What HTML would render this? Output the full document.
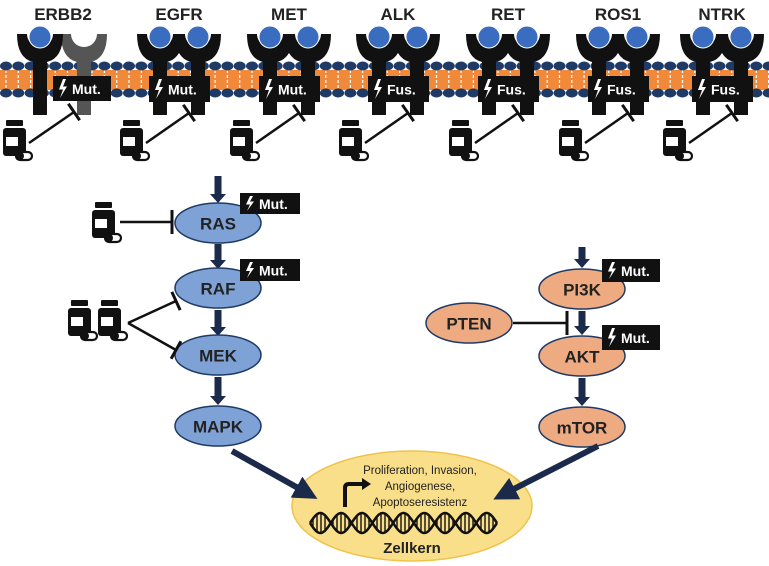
<!DOCTYPE html>
<html><head><meta charset="utf-8"><style>
html,body{margin:0;padding:0;background:#fff}
svg{display:block}
text{font-family:"Liberation Sans",sans-serif}
</style></head><body>
<svg id="s" width="769" height="566" viewBox="0 0 769 566" xmlns="http://www.w3.org/2000/svg">
<defs>
<marker id="ah" markerWidth="4" markerHeight="4" refX="2" refY="2" orient="auto" markerUnits="strokeWidth"><path d="M0,0 L4,2 L0,4 Z" fill="#1b2a4a"/></marker>
</defs>
</svg>
<script>
const NS="http://www.w3.org/2000/svg";
const s=document.getElementById('s');
function el(t,a,txt,parent){const e=document.createElementNS(NS,t);for(const k in a)e.setAttribute(k,a[k]);if(txt!=null)e.textContent=txt;(parent||s).appendChild(e);return e;}
// membrane
el('rect',{x:0,y:70,width:769,height:20,fill:'#f08a3a'});
for(let x=6;x<769;x+=12.3){
  el('line',{x1:x,y1:70,x2:x,y2:90,stroke:'#fff','stroke-width':1.2,'stroke-dasharray':'3,2'});
  el('ellipse',{cx:x,cy:66,rx:6,ry:4.5,fill:'#1e3a66'});
  el('ellipse',{cx:x,cy:93,rx:6,ry:4.5,fill:'#1e3a66'});
}
function receptor(cx,col,ball){
  el('path',{d:`M${cx-23},34 L${cx-13},34 A13,13 0 0 0 ${cx+13},34 L${cx+23},34 Q${cx+23},58 ${cx+7},62 L${cx+7},115 L${cx-7},115 L${cx-7},62 Q${cx-23},58 ${cx-23},34 Z`,fill:col});
  if(ball) el('circle',{cx:cx,cy:37,r:11,fill:'#3a6cc0',stroke:'#fff','stroke-width':1});
}
function box(x,y,w,h,t){
  el('rect',{x:x,y:y,width:w,height:h,fill:'#111'});
  el('path',{d:`M${x+10},${y+3} L${x+6},${y+h/2+1} L${x+10},${y+h/2+1} L${x+7},${y+h-3} L${x+14},${y+h/2-2} L${x+10},${y+h/2-2} L${x+13},${y+3} Z`,fill:'#fff'});
  el('text',{x:x+19,y:y+h/2+5.5,fill:'#fff','font-size':14,'font-weight':'bold'},t);
}
function bottle(x,y){
  el('rect',{x:x+3,y:y,width:17,height:6,rx:1,fill:'#111'});
  el('rect',{x:x,y:y+8,width:23,height:28,rx:3,fill:'#111'});
  el('rect',{x:x+3,y:y+17,width:12,height:9,fill:'#fff'});
  el('rect',{x:x+13,y:y+32,width:16,height:8,rx:4,fill:'#fff',stroke:'#111','stroke-width':2.2});
  el('rect',{x:x+13,y:y+32,width:8,height:8,rx:4,fill:'#111'});
}
function inhib(x1,y1,x2,y2,bl){
  bl=bl||10;
  el('line',{x1,y1,x2,y2,stroke:'#111','stroke-width':2.5});
  const dx=x2-x1,dy=y2-y1,L=Math.hypot(dx,dy),px=-dy/L*bl,py=dx/L*bl;
  el('line',{x1:x2+px,y1:y2+py,x2:x2-px,y2:y2-py,stroke:'#111','stroke-width':3});
}
receptor(84,'#555',false);
receptor(40,'#111',true);
el('text',{x:63,y:20,'text-anchor':'middle','font-size':17,'font-weight':'bold',fill:'#222'},'ERBB2');
box(53,76,58,25,'Mut.');
bottle(3,120); inhib(29,143,74,112);
const cols=[[179,'EGFR','Mut.'],[289,'MET','Mut.'],[398,'ALK','Fus.'],[508,'RET','Fus.'],[618,'ROS1','Fus.'],[722,'NTRK','Fus.']];
cols.forEach(([c,n,t])=>{
  receptor(c-19,'#111',true);receptor(c+19,'#111',true);
  el('text',{x:c,y:20,'text-anchor':'middle','font-size':17,'font-weight':'bold',fill:'#222'},n);
  box(c-30,76,61,26,t);
  bottle(c-59,120); inhib(c-33,143,c+10,113);
});
function arrow(x,y1,y2){
  el('rect',{x:x-3.5,y:y1,width:7,height:y2-y1-8,fill:'#1b2a4a'});
  el('path',{d:`M${x-8},${y2-9} L${x+8},${y2-9} L${x},${y2} Z`,fill:'#1b2a4a'});
}
function node(cx,cy,t,fill){
  el('ellipse',{cx,cy,rx:43,ry:20,fill,stroke:'#1e3a66','stroke-width':1.5});
  el('text',{x:cx,y:cy+6.5,'text-anchor':'middle','font-size':17,'font-weight':'bold',fill:'#222'},t);
}
const B='#7fa2d6',O='#eeaa80';
arrow(218,176,203);
node(218,223,'RAS',B); box(240,193,60,21,'Mut.');
arrow(218,244,269);
node(218,288,'RAF',B); box(240,259,60,22,'Mut.');
arrow(218,310,336);
node(218,355,'MEK',B);
arrow(218,377,405);
node(218,426,'MAPK',B);
bottle(92,202); inhib(120,222,172,222,12);
bottle(68,300); bottle(98,300);
inhib(128,323,176,301); inhib(128,323,176,350);
arrow(582,247,268);
node(582,289,'PI3K',O); box(602,259,58,23,'Mut.');
node(469,323,'PTEN',O);
arrow(582,311,335);
inhib(513,323,567,323,12);
node(582,356,'AKT',O); box(602,325,58,25,'Mut.');
arrow(582,378,406);
node(582,427,'mTOR',O);
el('ellipse',{cx:412,cy:506,rx:120,ry:55,fill:'#f9df8a',stroke:'#efc34a','stroke-width':1.5});
el('line',{x1:232,y1:451,x2:307,y2:493,stroke:'#1b2a4a','stroke-width':6,'marker-end':'url(#ah)'});
el('line',{x1:598,y1:446,x2:504,y2:494,stroke:'#1b2a4a','stroke-width':6,'marker-end':'url(#ah)'});
['Proliferation, Invasion,','Angiogenese,','Apoptoseresistenz'].forEach((t,i)=>el('text',{x:420,y:474+i*16,'text-anchor':'middle','font-size':11.5,fill:'#222'},t));
el('path',{d:'M345,507 L345,488 Q345,484 349,484 L363,484',fill:'none',stroke:'#111','stroke-width':4});
el('path',{d:'M362,478 L371,484 L362,490 Z',fill:'#111'});
const P=4.5;
let d1='',d2='';
for(let x=310;x<=497;x+=1){const v=10*Math.sin((x-310)/187*2*Math.PI*P);d1+=(x==310?'M':'L')+x+','+(523+v).toFixed(1);d2+=(x==310?'M':'L')+x+','+(523-v).toFixed(1);}
el('path',{d:d1,fill:'none',stroke:'#111','stroke-width':2.5});
el('path',{d:d2,fill:'none',stroke:'#111','stroke-width':2.5});
for(let x=313;x<497;x+=4){const v=10*Math.sin((x-310)/187*2*Math.PI*P);if(Math.abs(v)>3)el('line',{x1:x,y1:523+v,x2:x,y2:523-v,stroke:'#111','stroke-width':1.4});}
el('text',{x:412,y:553,'text-anchor':'middle','font-size':15,'font-weight':'bold',fill:'#222'},'Zellkern');
</script>
</body></html>
